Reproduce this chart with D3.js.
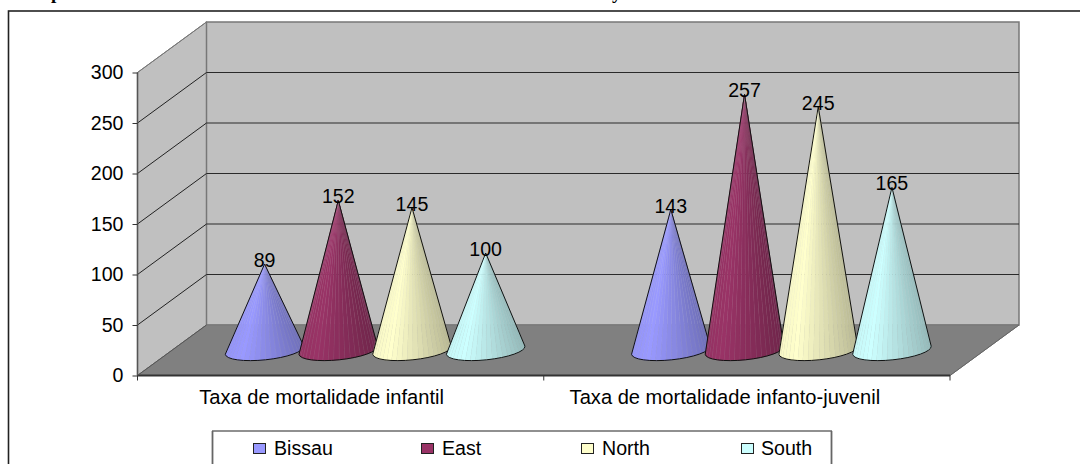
<!DOCTYPE html>
<html>
<head>
<meta charset="utf-8">
<script src="https://cdn.jsdelivr.net/npm/d3@7/dist/d3.min.js"></script>
<style>
  html, body { margin: 0; padding: 0; background: #fff; }
  svg { display: block; }
  text { font-family: "Liberation Sans", Arial, sans-serif; fill: #000; }
</style>
</head>
<body>
<svg id="chart" width="1080" height="464"></svg>
<script>
// Mortality rates per region, shown as 3D cones
const categories = ["Taxa de mortalidade infantil", "Taxa de mortalidade infanto-juvenil"];
const regions = ["Bissau", "East", "North", "South"];
const regionColors = ["#9999ff", "#993366", "#ffffcc", "#ccffff"];
const bissauValues = [89, 143];
const eastValues = [152, 257];
const northValues = [145, 245];
const southValues = [100, 165];
const seriesValues = [bissauValues, eastValues, northValues, southValues];
const yTicks = [0, 50, 100, 150, 200, 250, 300];

const svg = d3.select("#chart");
const FONT = 19.6;

// Box projection: front plane plus a depth shift towards the back wall
const front = { left: 137.5, right: 950, top: 72.5, bottom: 375.5 };
const depth = { dx: 69, dy: -50.5 };

const y = d3.scaleLinear().domain([0, 300]).range([front.bottom, front.top]);
const xCat = d3.scaleBand().domain(categories).range([front.left, front.right]);
const xSeries = d3.scaleBand().domain(regions).range([-147.4, 147.4]);

// Page frame and the clipped heading above it
svg.append("rect").attr("x", 8.5).attr("y", 11).attr("width", 1200).attr("height", 600)
  .attr("fill", "#fff").attr("stroke", "#222").attr("stroke-width", 1.6);
svg.append("g").style("font-family", "'Liberation Serif', serif").style("font-weight", "bold")
  .selectAll("text").data([["p", 51], ["y", 612]]).join("text")
  .attr("x", d => d[1]).attr("y", -1).attr("font-size", 19)
  .style("font-family", "inherit").text(d => d[0]);

// Walls and floor
const poly = pts => "M" + pts.map(p => p.join(",")).join("L") + "Z";
const backL = front.left + depth.dx, backR = front.right + depth.dx;
const backBottom = front.bottom + depth.dy, backTop = front.top + depth.dy;
const wallStroke = "#777";

svg.append("path")
  .attr("d", poly([[front.left, front.top], [backL, backTop], [backL, backBottom], [front.left, front.bottom]]))
  .attr("fill", "#c0c0c0").attr("stroke", wallStroke).attr("stroke-width", 1);
svg.append("path")
  .attr("d", poly([[backL, backTop], [backR, backTop], [backR, backBottom], [backL, backBottom]]))
  .attr("fill", "#c0c0c0").attr("stroke", wallStroke).attr("stroke-width", 1.5);
svg.append("path")
  .attr("d", poly([[front.left, front.bottom], [backL, backBottom], [backR, backBottom], [front.right, front.bottom]]))
  .attr("fill", "#808080").attr("stroke", wallStroke).attr("stroke-width", 1);

// Gridlines run along the side wall and across the back wall
const grid = svg.append("g");
yTicks.filter(t => t > 0).forEach(t => {
  const stroke = t === 300 ? wallStroke : "#222";
  grid.append("path")
    .attr("d", `M${front.left},${y(t)}L${backL},${y(t) + depth.dy}`)
    .attr("fill", "none").attr("stroke", stroke).attr("stroke-width", 1);
  if (t < 300) {
    grid.append("path")
      .attr("d", `M${backL},${y(t) + depth.dy}L${backR},${y(t) + depth.dy}`)
      .attr("fill", "none").attr("stroke", "#2a2a2a").attr("stroke-width", 1);
  }
});

// Floor edges
svg.append("path").attr("d", `M${front.left},${front.bottom}L${front.right},${front.bottom}`)
  .attr("stroke", "#333").attr("stroke-width", 2).attr("fill", "none");
svg.append("path").attr("d", `M${front.left},${front.top}L${front.left},${front.bottom}`)
  .attr("stroke", "#555").attr("stroke-width", 1.6).attr("fill", "none");
svg.append("path").attr("d", `M${front.left},${front.bottom}L${backL},${backBottom}`)
  .attr("stroke", "#555").attr("stroke-width", 1).attr("fill", "none");
svg.append("path").attr("d", `M${front.right},${front.bottom}L${backR},${backBottom}`)
  .attr("stroke", "#666").attr("stroke-width", 1).attr("fill", "none");

// Value axis
const yAxis = d3.axisLeft(y).tickValues(yTicks).tickSize(5).tickPadding(9);
const yG = svg.append("g").attr("transform", `translate(${front.left},0)`).call(yAxis);
yG.select(".domain").remove();
yG.selectAll("line").attr("stroke", "#333");
yG.selectAll("text").attr("font-size", FONT).style("font-family", "'Liberation Sans', Arial, sans-serif").attr("fill", "#000");

// Category axis: ticks at the band edges, labels set slightly left of each band centre
const catEdges = [front.left, front.left + xCat.bandwidth(), front.right];
const catLabelShift = [-19, -22];
svg.append("g").selectAll("line").data(catEdges).join("line")
  .attr("x1", d => d).attr("x2", d => d)
  .attr("y1", front.bottom).attr("y2", front.bottom + 5)
  .attr("stroke", "#333");
svg.append("g").selectAll("text").data(categories).join("text")
  .attr("x", (d, i) => xCat(d) + xCat.bandwidth() / 2 + catLabelShift[i])
  .attr("y", 404)
  .attr("text-anchor", "middle")
  .attr("font-size", 20.1)
  .text(d => d);

// Cones: sit half way into the depth, with a slightly tilted elliptical base
const baseRx = 39.5, baseRy = 9.6, tilt = -5.9 * Math.PI / 180, tipLift = 21.5, FACETS = 22;

function basePoint(cx, cy, t) {
  const a = baseRx * Math.cos(t), b = baseRy * Math.sin(t);
  return [cx + a * Math.cos(tilt) - b * Math.sin(tilt), cy + a * Math.sin(tilt) + b * Math.cos(tilt)];
}
// Shading across the cone: a highlight left of centre, falling off to the right
function shade(color, u) {
  const k = u < 0.22 ? 0.97 + 0.03 * (u / 0.22) : 1 - 0.27 * ((u - 0.22) / 0.78);
  const c = d3.rgb(color);
  return d3.rgb(c.r * k, c.g * k, c.b * k).formatHex();
}

const coneLayer = svg.append("g");
const labelLayer = svg.append("g");

categories.forEach((cat, ci) => {
  regions.forEach((region, si) => {
    const value = seriesValues[si][ci];
    const cx = xCat(cat) + xCat.bandwidth() / 2 + xSeries(region) + xSeries.bandwidth() / 2 + depth.dx / 2;
    const cy = front.bottom + depth.dy / 2;
    const tip = [cx, y(value) - tipLift];
    const ts = d3.range(FACETS + 1).map(i => Math.PI - Math.PI * i / FACETS);
    const pts = ts.map(t => basePoint(cx, cy, t));
    const g = coneLayer.append("g");
    d3.range(FACETS).forEach(i => {
      const u = ((pts[i][0] + pts[i + 1][0]) / 2 - (cx - baseRx)) / (2 * baseRx);
      const col = shade(regionColors[si], u);
      g.append("path")
        .attr("d", poly([tip, pts[i], pts[i + 1]]))
        .attr("fill", col).attr("stroke", col).attr("stroke-width", 0.4);
    });
    d3.range(1, FACETS).forEach(i => {
      g.append("path")
        .attr("d", `M${tip.join(",")}L${pts[i].join(",")}`)
        .attr("stroke", "#fff").attr("stroke-opacity", 0.1).attr("stroke-width", 0.6).attr("fill", "none");
    });
    const arc = `A${baseRx},${baseRy} ${tilt * 180 / Math.PI} 0 0 ${pts[FACETS].join(",")}`;
    g.append("path")
      .attr("d", `M${tip.join(",")}L${pts[0].join(",")}${arc}Z`)
      .attr("fill", "none").attr("stroke", "#111").attr("stroke-width", 1).attr("stroke-linejoin", "round");
    labelLayer.append("text")
      .attr("x", cx).attr("y", tip[1] + 3)
      .attr("text-anchor", "middle").attr("font-size", FONT)
      .text(value);
  });
});

// Legend
const legendItems = [
  { swatch: 253, text: 274 },
  { swatch: 421, text: 442 },
  { swatch: 581, text: 602 },
  { swatch: 741, text: 761 }
];
svg.append("rect").attr("x", 212.5).attr("y", 431).attr("width", 619).attr("height", 80)
  .attr("fill", "#fff").attr("stroke", "#222").attr("stroke-width", 1);
[212.5, 831.5].forEach(x => svg.append("line").attr("x1", x).attr("x2", x).attr("y1", 431).attr("y2", 464)
  .attr("stroke", "#666").attr("stroke-width", 1.8));
const legend = svg.append("g").selectAll("g").data(regions).join("g");
legend.append("rect")
  .attr("x", (d, i) => legendItems[i].swatch + 0.5).attr("y", 443.5)
  .attr("width", 12).attr("height", 10)
  .attr("fill", (d, i) => regionColors[i]).attr("stroke", "#222").attr("stroke-width", 1);
legend.append("text")
  .attr("x", (d, i) => legendItems[i].text).attr("y", 455)
  .attr("font-size", FONT)
  .text(d => d);
</script>
</body>
</html>
